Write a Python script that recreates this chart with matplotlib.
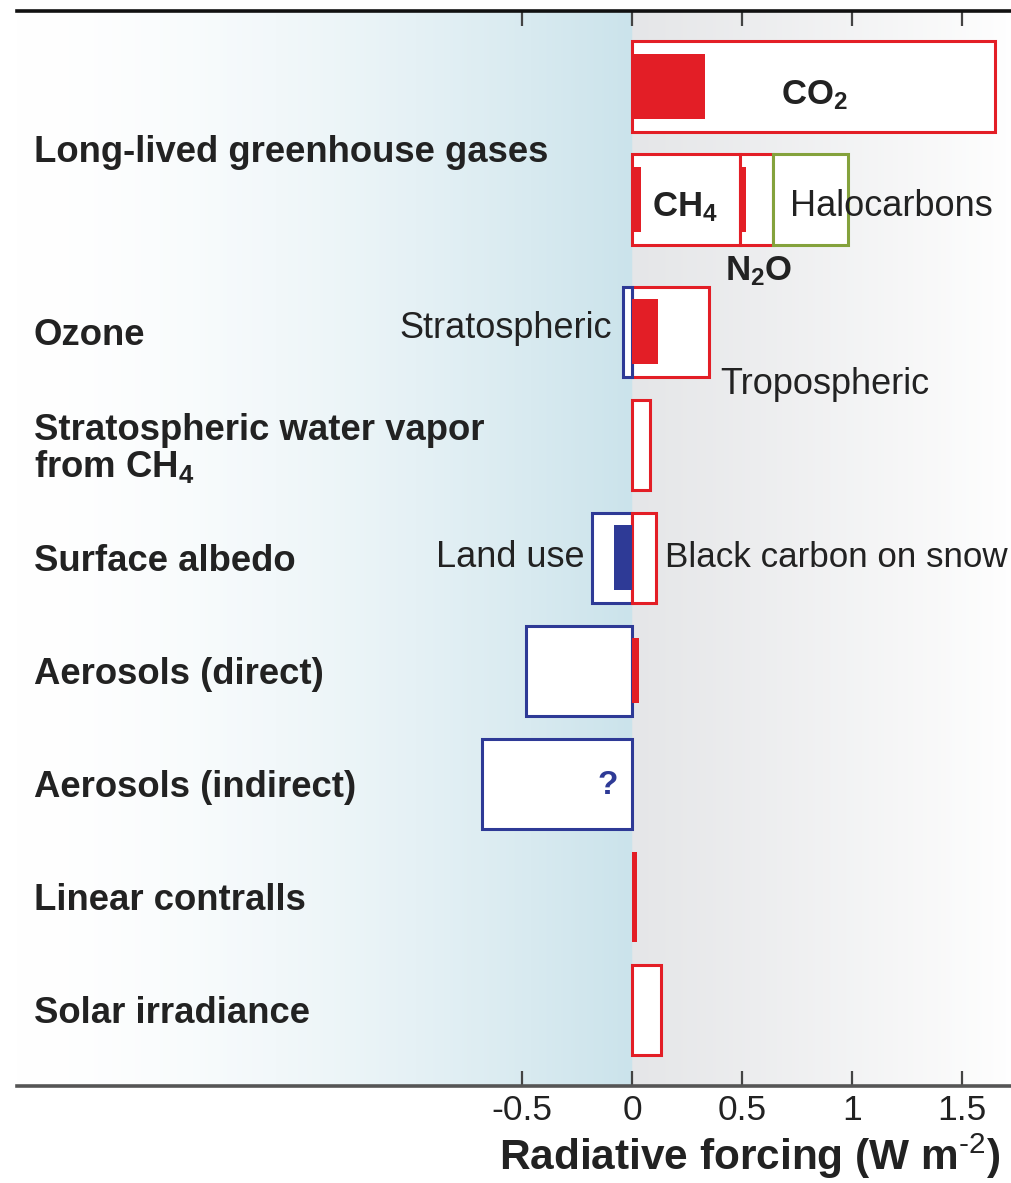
import numpy as np
import matplotlib
matplotlib.use("Agg")
import matplotlib.pyplot as plt

plt.rcParams['font.family'] = ['Liberation Sans', 'DejaVu Sans']
plt.rcParams['mathtext.fontset'] = 'custom'
plt.rcParams['mathtext.rm'] = 'Liberation Sans'
plt.rcParams['mathtext.bf'] = 'Liberation Sans:bold'
plt.rcParams['mathtext.it'] = 'Liberation Sans:italic'

# ---------------- data ----------------
row_labels = ["Long-lived greenhouse gases", "Ozone",
              "Stratospheric water vapor\nfrom CH$_{\\mathbf{4}}$",
              "Surface albedo", "Aerosols (direct)", "Aerosols (indirect)",
              "Linear contralls", "Solar irradiance"]

co2, co2_inner = 1.65, 0.33
ch4, ch4_inner = 0.49, 0.04
n2o, n2o_inner = 0.15, 0.03
halocarbons = 0.34
strat_ozone = -0.04
trop_ozone, trop_ozone_inner = 0.35, 0.12
strat_h2o = 0.08
land_use, land_use_inner = -0.18, -0.08
bc_snow = 0.11
aer_direct, aer_direct_inner = -0.48, 0.03
aer_indirect = -0.68
contrails = 0.025
solar = 0.13

xticks = [-0.5, 0, 0.5, 1, 1.5]
xticklabels = ["-0.5", "0", "0.5", "1", "1.5"]

RED = "#e31e26"
BLUE = "#2e3a96"
GREEN = "#84a23c"
TXT = "#222222"

# ---------------- layout ----------------
W, H = 1012, 1183
fig = plt.figure(figsize=(W / 100, H / 100), dpi=100)
ax = fig.add_axes([17 / W, 1 - 1086 / H, (W - 17) / W, (1086 - 11) / H])

xmin, xmax = -2.795, 1.727
ymin, ymax = -0.668, 8.845
ax.set_xlim(xmin, xmax)
ax.set_ylim(ymax, ymin)

# row positions (9 bar rows; gap after the greenhouse gas group)
gap = 0.17
ypos = [i + (gap if i >= 2 else 0) for i in range(9)]

# background gradient
xs = np.linspace(xmin, xmax, 1200)
img = np.ones((2, xs.size, 3))
blue = np.array([203, 227, 235]) / 255
gray = np.array([229, 230, 232]) / 255
white = np.array([1.0, 1.0, 1.0])
for j, x in enumerate(xs):
    if x < 0:
        t = np.clip((x - xmin) / (0 - xmin), 0, 1) ** 1.6
        c = white * (1 - t) + blue * t
    else:
        t = np.clip(1 - x / 1.75, 0, 1) ** 0.9
        c = white * (1 - t) + gray * t
    img[:, j, :] = c
ax.imshow(img, extent=[xmin, xmax, ymax, ymin], aspect='auto', zorder=0,
          interpolation='bilinear')

bh = 0.80   # outline bar height
ih = 0.575  # inner fill height
lw = 2.2

def box(y, left, width, color, z=2):
    ax.barh(y, width, left=left, height=bh, color='white', edgecolor=color,
            linewidth=lw, zorder=z)

def fill(y, left, width, color, h=ih, z=4):
    ax.barh(y, width, left=left, height=h, color=color, edgecolor='none',
            linewidth=0, zorder=z)

# CO2
box(ypos[0], 0, co2, RED)
fill(ypos[0], 0, co2_inner, RED)
# CH4, N2O, Halocarbons
box(ypos[1], 0, ch4, RED)
box(ypos[1], ch4, n2o, RED, z=2.1)
box(ypos[1], ch4 + n2o, halocarbons, GREEN, z=2.2)
fill(ypos[1], 0, ch4_inner, RED)
fill(ypos[1], ch4, n2o_inner, RED)
# Ozone
box(ypos[2], 0, trop_ozone, RED)
box(ypos[2], 0, strat_ozone, BLUE, z=2.1)
fill(ypos[2], 0, trop_ozone_inner, RED)
# Strat water vapour
box(ypos[3], 0, strat_h2o, RED)
# Surface albedo
box(ypos[4], 0, land_use, BLUE)
box(ypos[4], 0, bc_snow, RED, z=2.1)
fill(ypos[4], 0, land_use_inner, BLUE)
# Aerosols direct
box(ypos[5], 0, aer_direct, BLUE)
fill(ypos[5], 0, aer_direct_inner, RED)
# Aerosols indirect
box(ypos[6], 0, aer_indirect, BLUE)
# Linear contrails
fill(ypos[7], 0, contrails, RED, h=bh)
# Solar
box(ypos[8], 0, solar, RED)

# row labels
label_y = [(ypos[0] + ypos[1]) / 2 + 0.08] + [y + 0.035 for y in ypos[2:]]
for lab, y in zip(row_labels, label_y):
    ax.text(-2.72, y, lab, fontsize=26.3, fontweight='bold', color=TXT,
            ha='left', va='center', zorder=5, linespacing=1.0)

# in-chart annotations
ax.text(0.83, ypos[0] + 0.08, "CO$_{\\mathbf{2}}$", fontsize=25, fontweight='bold',
        color=TXT, ha='center', va='center', zorder=6)
ax.text(0.24, ypos[1] + 0.07, "CH$_{\\mathbf{4}}$", fontsize=25, fontweight='bold',
        color=TXT, ha='center', va='center', zorder=6)
ax.text(0.575, ypos[1] + 0.63, "N$_{\\mathbf{2}}$O", fontsize=25, fontweight='bold',
        color=TXT, ha='center', va='center', zorder=6)
ax.text(0.72, ypos[1] + 0.06, "Halocarbons", fontsize=26, color=TXT,
        ha='left', va='center', zorder=6)
ax.text(-0.09, ypos[2] - 0.03, "Stratospheric", fontsize=26, color=TXT,
        ha='right', va='center', zorder=6)
ax.text(0.40, ypos[2] + 0.47, "Tropospheric", fontsize=26, color=TXT,
        ha='left', va='center', zorder=6)
ax.text(-0.215, ypos[4] - 0.005, "Land use", fontsize=26, color=TXT,
        ha='right', va='center', zorder=6)
ax.text(0.148, ypos[4] - 0.005, "Black carbon on snow", fontsize=25.2, color=TXT,
        ha='left', va='center', zorder=6)
ax.text(-0.11, ypos[6] + 0.02, "?", fontsize=24, fontweight='bold', color=BLUE,
        ha='center', va='center', zorder=6)

# axes styling
for s in ['left', 'right']:
    ax.spines[s].set_visible(False)
ax.spines['top'].set_color('#111111')
ax.spines['top'].set_linewidth(2.6)
ax.spines['bottom'].set_color('#555555')
ax.spines['bottom'].set_linewidth(2.6)
ax.set_yticks([])
ax.set_xticks(xticks)
ax.set_xticklabels(xticklabels, fontsize=25.5, color=TXT)
ax.tick_params(axis='x', direction='in', top=True, bottom=True, length=11,
               width=1.6, color='#444444', pad=6)
ax.set_xlabel("Radiative forcing (W m$^{\\text{-2}}$)", fontsize=30.5,
              fontweight='bold', color=TXT, labelpad=4)
ax.xaxis.set_label_coords(0.988, -0.042)
ax.xaxis.label.set_horizontalalignment('right')

fig.savefig("out.png", dpi=100)
